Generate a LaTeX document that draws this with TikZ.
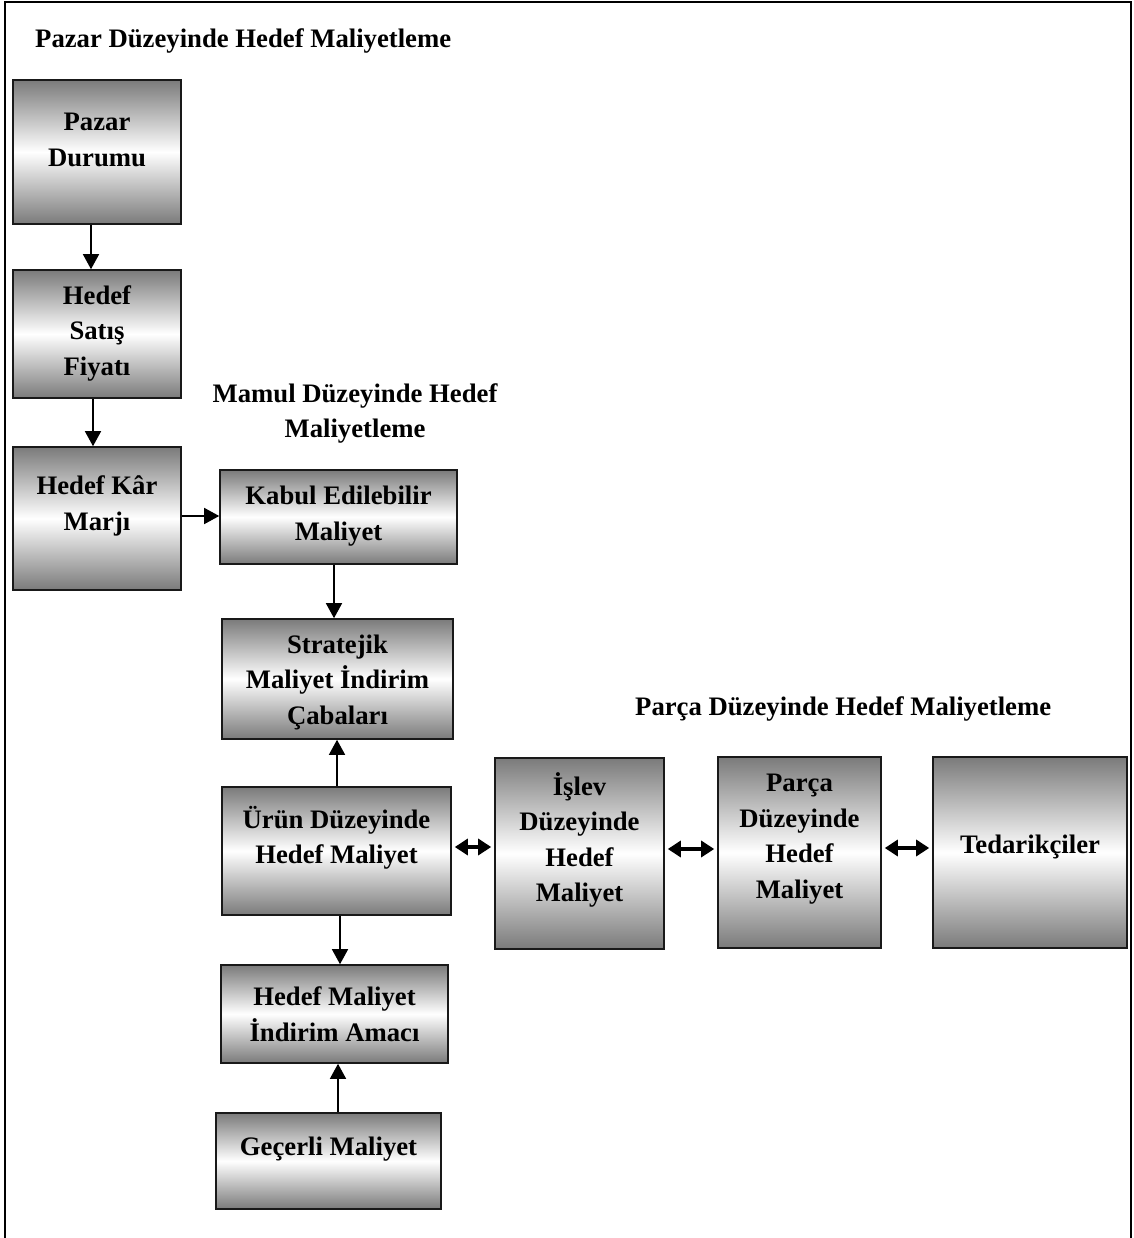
\documentclass[tikz,border=0pt]{standalone}
\usepackage{fontspec}
\setmainfont{Liberation Serif}
\usetikzlibrary{arrows.meta}
\begin{document}
\begin{tikzpicture}[x=1pt,y=-1pt,
  stagebox/.style={draw=black!90, line width=1.6pt, top color=black!52, bottom color=black!52,
    middle color=white, inner sep=0pt},
  boxtext/.style={align=center, inner sep=0pt, font=\bfseries\fontsize{26.7}{35.5}\selectfont},
  heading/.style={align=center, inner sep=0pt, font=\bfseries\fontsize{26.7}{35}\selectfont},
  flow/.style={line width=1.5pt, -{Triangle[length=15pt,width=16pt]}},
  twoway/.style={line width=3.2pt, {Triangle[length=13pt,width=16pt]}-{Triangle[length=13pt,width=16pt]},
    shorten <=3pt, shorten >=3pt}]
\useasboundingbox (0,0) rectangle (1133,1238);
% outer frame, open at the bottom
\draw[line width=2pt] (5,1238) -- (5,2) -- (1131,2) -- (1131,1238);

% headings
\node[heading, anchor=west] (hpazar) at (35,41) {Pazar Düzeyinde Hedef Maliyetleme};
\node[heading] (hmamul) at (355,413) {Mamul Düzeyinde Hedef\\Maliyetleme};
\node[heading, anchor=west] (hparca) at (635,709) {Parça Düzeyinde Hedef Maliyetleme};

% boxes
\node[stagebox, minimum width=168pt, minimum height=144pt] (pazar)   at (97,152)    {};
\node[stagebox, minimum width=168pt, minimum height=128pt] (satis)   at (97,334)    {};
\node[stagebox, minimum width=168pt, minimum height=143pt] (kar)     at (97,518.5)  {};
\node[stagebox, minimum width=237pt, minimum height=94pt]  (kabul)   at (338.5,517) {};
\node[stagebox, minimum width=231pt, minimum height=120pt] (strat)   at (337.5,679) {};
\node[stagebox, minimum width=229pt, minimum height=128pt] (urun)    at (336.5,851) {};
\node[stagebox, minimum width=227pt, minimum height=98pt]  (amac)    at (334.5,1014){};
\node[stagebox, minimum width=225pt, minimum height=96pt]  (gecerli) at (328.5,1161){};
\node[stagebox, minimum width=169pt, minimum height=191pt] (islev)   at (579.5,853.5){};
\node[stagebox, minimum width=163pt, minimum height=191pt] (parca)   at (799.5,852.5){};
\node[stagebox, minimum width=194pt, minimum height=191pt] (ted)     at (1030,852.5){};

% box texts
\node[boxtext] (pazarT)   at (97,140)    {Pazar\\Durumu};
\node[boxtext] (satisT)   at (97,333)    {Hedef\\Satış\\Fiyatı};
\node[boxtext] (karT)     at (97,506)    {Hedef Kâr\\Marjı};
\node[boxtext] (kabulT)   at (338.5,516) {Kabul Edilebilir\\Maliyet};
\node[boxtext] (stratT)   at (337.5,682) {Stratejik\\Maliyet İndirim\\Çabaları};
\node[boxtext] (urunT)    at (336.5,838) {Ürün Düzeyinde\\Hedef Maliyet};
\node[boxtext] (amacT)    at (334.5,1014){Hedef Maliyet\\İndirim Amacı};
\node[boxtext] (gecerliT) at (328.5,1149){Geçerli Maliyet};
\node[boxtext] (islevT)   at (579.5,840) {İşlev\\Düzeyinde\\Hedef\\Maliyet};
\node[boxtext] (parcaT)   at (799.5,839) {Parça\\Düzeyinde\\Hedef\\Maliyet};
\node[boxtext] (tedT)     at (1030,847)  {Tedarikçiler};

% connectors
\draw[flow] ([xshift=-6pt]pazar.south) -- ([xshift=-6pt]satis.north);
\draw[flow] ([xshift=-4pt]satis.south) -- ([xshift=-4pt]kar.north);
\draw[flow] ([yshift=2.5pt]kar.east) -- ([yshift=1pt]kabul.west);
\draw[flow] ([xshift=-4.5pt]kabul.south) -- ([xshift=-3.5pt]strat.north);
\draw[flow] ([xshift=0.5pt]urun.north) -- ([xshift=-0.5pt]strat.south);
\draw[flow] ([xshift=3.5pt]urun.south) -- ([xshift=5.5pt]amac.north);
\draw[flow] ([xshift=9.5pt]gecerli.north) -- ([xshift=3.5pt]amac.south);
\draw[twoway] ([yshift=4pt]urun.east) -- ([yshift=6.5pt]islev.west);
\draw[twoway] ([yshift=4.5pt]islev.east) -- ([yshift=3.5pt]parca.west);
\draw[twoway] ([yshift=4.5pt]parca.east) -- ([yshift=4.5pt]ted.west);
\end{tikzpicture}
\end{document}
